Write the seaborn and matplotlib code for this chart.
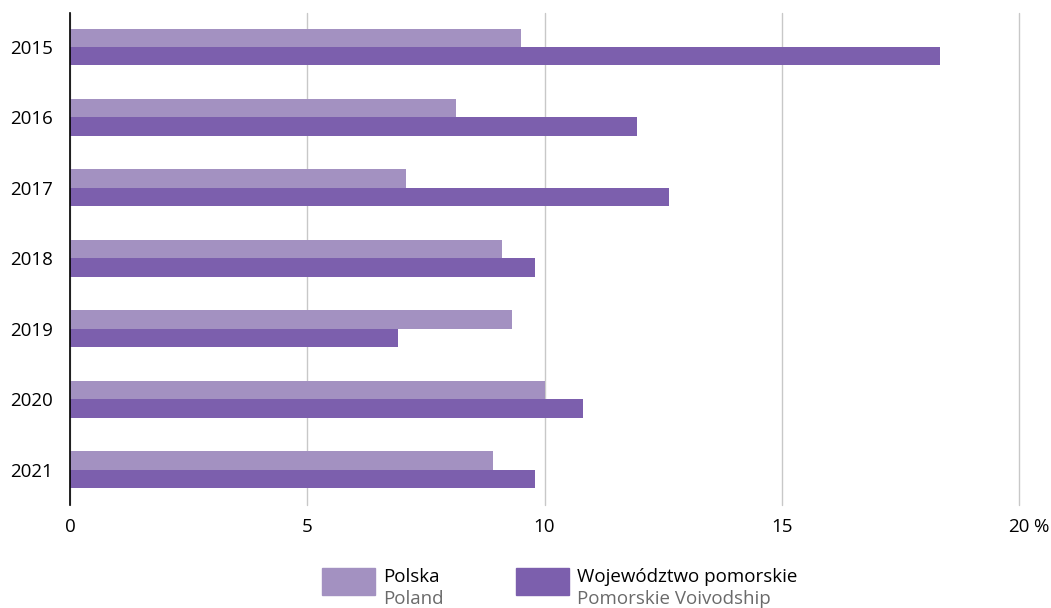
import matplotlib
matplotlib.use('Agg')
import matplotlib.pyplot as plt
import matplotlib.transforms as mtransforms
import seaborn as sns
import pandas as pd
from matplotlib.patches import Rectangle

# ====== DATA
years = ['2015', '2016', '2017', '2018', '2019', '2020', '2021']
polska = [9.5, 8.13, 7.08, 9.1, 9.31, 10.01, 8.91]
pomorskie = [18.33, 11.95, 12.62, 9.8, 6.91, 10.81, 9.8]
series = ['Polska', 'Województwo pomorskie']
series_en = ['Poland', 'Pomorskie Voivodship']
xticks = [0, 5, 10, 15, 20]

palette = ['#a391c1', '#7c5fad']

df = pd.DataFrame({
    'year': years * 2,
    'value': polska + pomorskie,
    'series': [series[0]] * len(years) + [series[1]] * len(years),
})

sns.set_style('white')
plt.rcParams['font.family'] = ['Open Sans', 'DejaVu Sans']
fs = 13.5

fig = plt.figure(figsize=(10.51, 6.08), dpi=100)
ax = fig.add_axes([70 / 1051, 1 - 505 / 608, (1019 - 70) / 1051, (505 - 13) / 608])

sns.barplot(data=df, y='year', x='value', hue='series', palette=palette,
            orient='h', width=0.52, saturation=1, legend=False, linewidth=0,
            edgecolor='none', ax=ax)

ax.set_xlim(0, 20)
ax.set_ylim(6.5, -0.48)
ax.set_xticks(xticks)
ax.set_xticklabels([str(t) for t in xticks])
ax.xaxis.grid(True, color='#c8c8c8', linewidth=1)
for gl in ax.get_xgridlines():
    gl.set_clip_on(False)
ax.set_axisbelow(True)
ax.set_xlabel('')
ax.set_ylabel('')
for s in ['top', 'right', 'bottom']:
    ax.spines[s].set_visible(False)
ax.spines['left'].set_color('black')
ax.spines['left'].set_linewidth(1.2)
ax.tick_params(axis='both', length=0, labelsize=fs, colors='black')
ax.tick_params(axis='y', pad=12)
ax.tick_params(axis='x', pad=9)
# "%" after the last tick label
pct_tr = mtransforms.offset_copy(ax.get_xaxis_transform(), fig=fig, x=14, y=-12.5, units='dots')
ax.text(20, 0, '%', transform=pct_tr, ha='left', va='top', fontsize=fs, color='black')

# legend
leg_x = [322, 516]
for i, name in enumerate(series):
    fig.add_artist(Rectangle((leg_x[i] / 1051, 1 - 595 / 608), 53 / 1051, 27 / 608,
                             transform=fig.transFigure, color=palette[i]))
    fig.text((leg_x[i] + 61) / 1051, 1 - 577 / 608, name, fontsize=fs,
             color='black', va='center', ha='left')
    fig.text((leg_x[i] + 61) / 1051, 1 - 599 / 608, series_en[i], fontsize=fs,
             color='#6a6a6a', va='center', ha='left')

fig.savefig('out.png', dpi=100)
plt.close()
